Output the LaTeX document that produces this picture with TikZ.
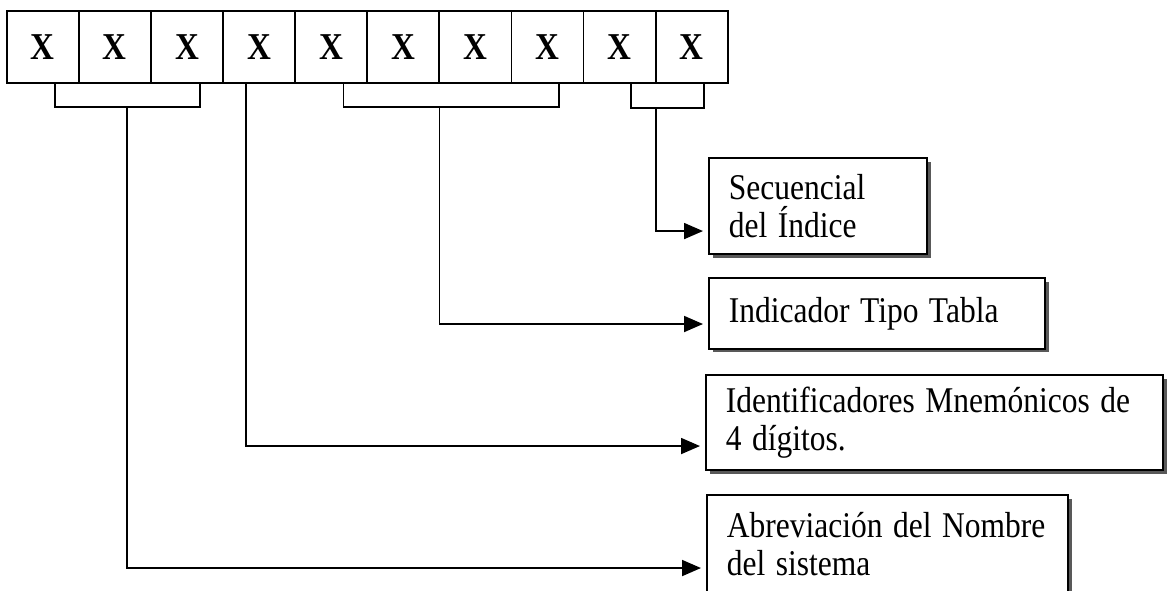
\documentclass[tikz,border=0pt]{standalone}
\usepackage{fontspec}
\setmainfont{Liberation Serif}
\usetikzlibrary{arrows.meta,shadows}
\tikzset{
  cellBox/.style={draw,line width=1.8pt,minimum width=72.1pt,minimum height=71.7pt,inner sep=0pt,
    font=\fontsize{33}{33}\selectfont\bfseries},
  labelBox/.style={draw,line width=1.8pt,fill=white,anchor=north west,inner xsep=20pt,inner ysep=0pt,
    align=left,font=\fontsize{31.5}{33}\selectfont,yscale=1.15,transform shape,
    drop shadow={shadow xshift=4pt,shadow yshift=-3.5pt,fill=boxShadow,opacity=1}},
  bracketLine/.style={line width=1.8pt},
  linkArrow/.style={line width=1.8pt,-{Triangle[length=19pt,width=16pt]},shorten >=5pt},
}
\colorlet{boxShadow}{black!65}
\newcommand{\tallX}{\scalebox{1}[1.15]{X}}
\begin{document}
\begin{tikzpicture}[x=1pt,y=-1pt]
  \useasboundingbox (0,0) rectangle (1167,591);

  \foreach \i in {1,...,10}
    \node[cellBox] (c\i) at ({6.7+72.1*(\i-0.5)},47) {\tallX};

  \node[labelBox,text width=178pt,minimum height=83.5pt] at (708,157) (secuencial) {Secuencial\\del Índice};
  \node[labelBox,text width=296pt,minimum height=61.7pt] at (708,277) (tipoTabla) {Indicador Tipo Tabla};
  \node[labelBox,text width=417pt,minimum height=82.6pt] at (705,374) (mnemonico) {Identificadores Mnemónicos de\\4 dígitos.};
  \node[labelBox,text width=321pt,minimum height=85.2pt] at (706,494) (abrevNombre) {Abreviación del Nombre\\del sistema};

  \coordinate (brOneL) at (55,107);
  \coordinate (brOneR) at (200,107);
  \coordinate (brOneM) at (126.7,107);
  \coordinate (stemTwo) at (246,107);
  \coordinate (brThreeL) at (343.4,107);
  \coordinate (brThreeR) at (559.2,107);
  \coordinate (brThreeM) at (439.5,107);
  \coordinate (brFourL) at (631,108);
  \coordinate (brFourR) at (704,108);
  \coordinate (brFourM) at (655.7,108);

  \draw[bracketLine] (c1.south -| brOneL) -- (brOneL) -- (brOneR) -- (c3.south -| brOneR);
  \draw[bracketLine] (c5.south -| brThreeL) -- (brThreeL) -- (brThreeR) -- (c8.south -| brThreeR);
  \draw[bracketLine] (c9.south -| brFourL) -- (brFourL) -- (brFourR) -- (c10.south -| brFourR);

  \draw[linkArrow] (brFourM) |- ([yshift=-25pt]secuencial.west);
  \draw[linkArrow] (brThreeM) |- ([yshift=-10.5pt]tipoTabla.west);
  \draw[linkArrow] (c4.south -| stemTwo) |- ([yshift=-23.5pt]mnemonico.west);
  \draw[linkArrow] (brOneM) |- ([yshift=-24pt]abrevNombre.west);
\end{tikzpicture}
\end{document}
